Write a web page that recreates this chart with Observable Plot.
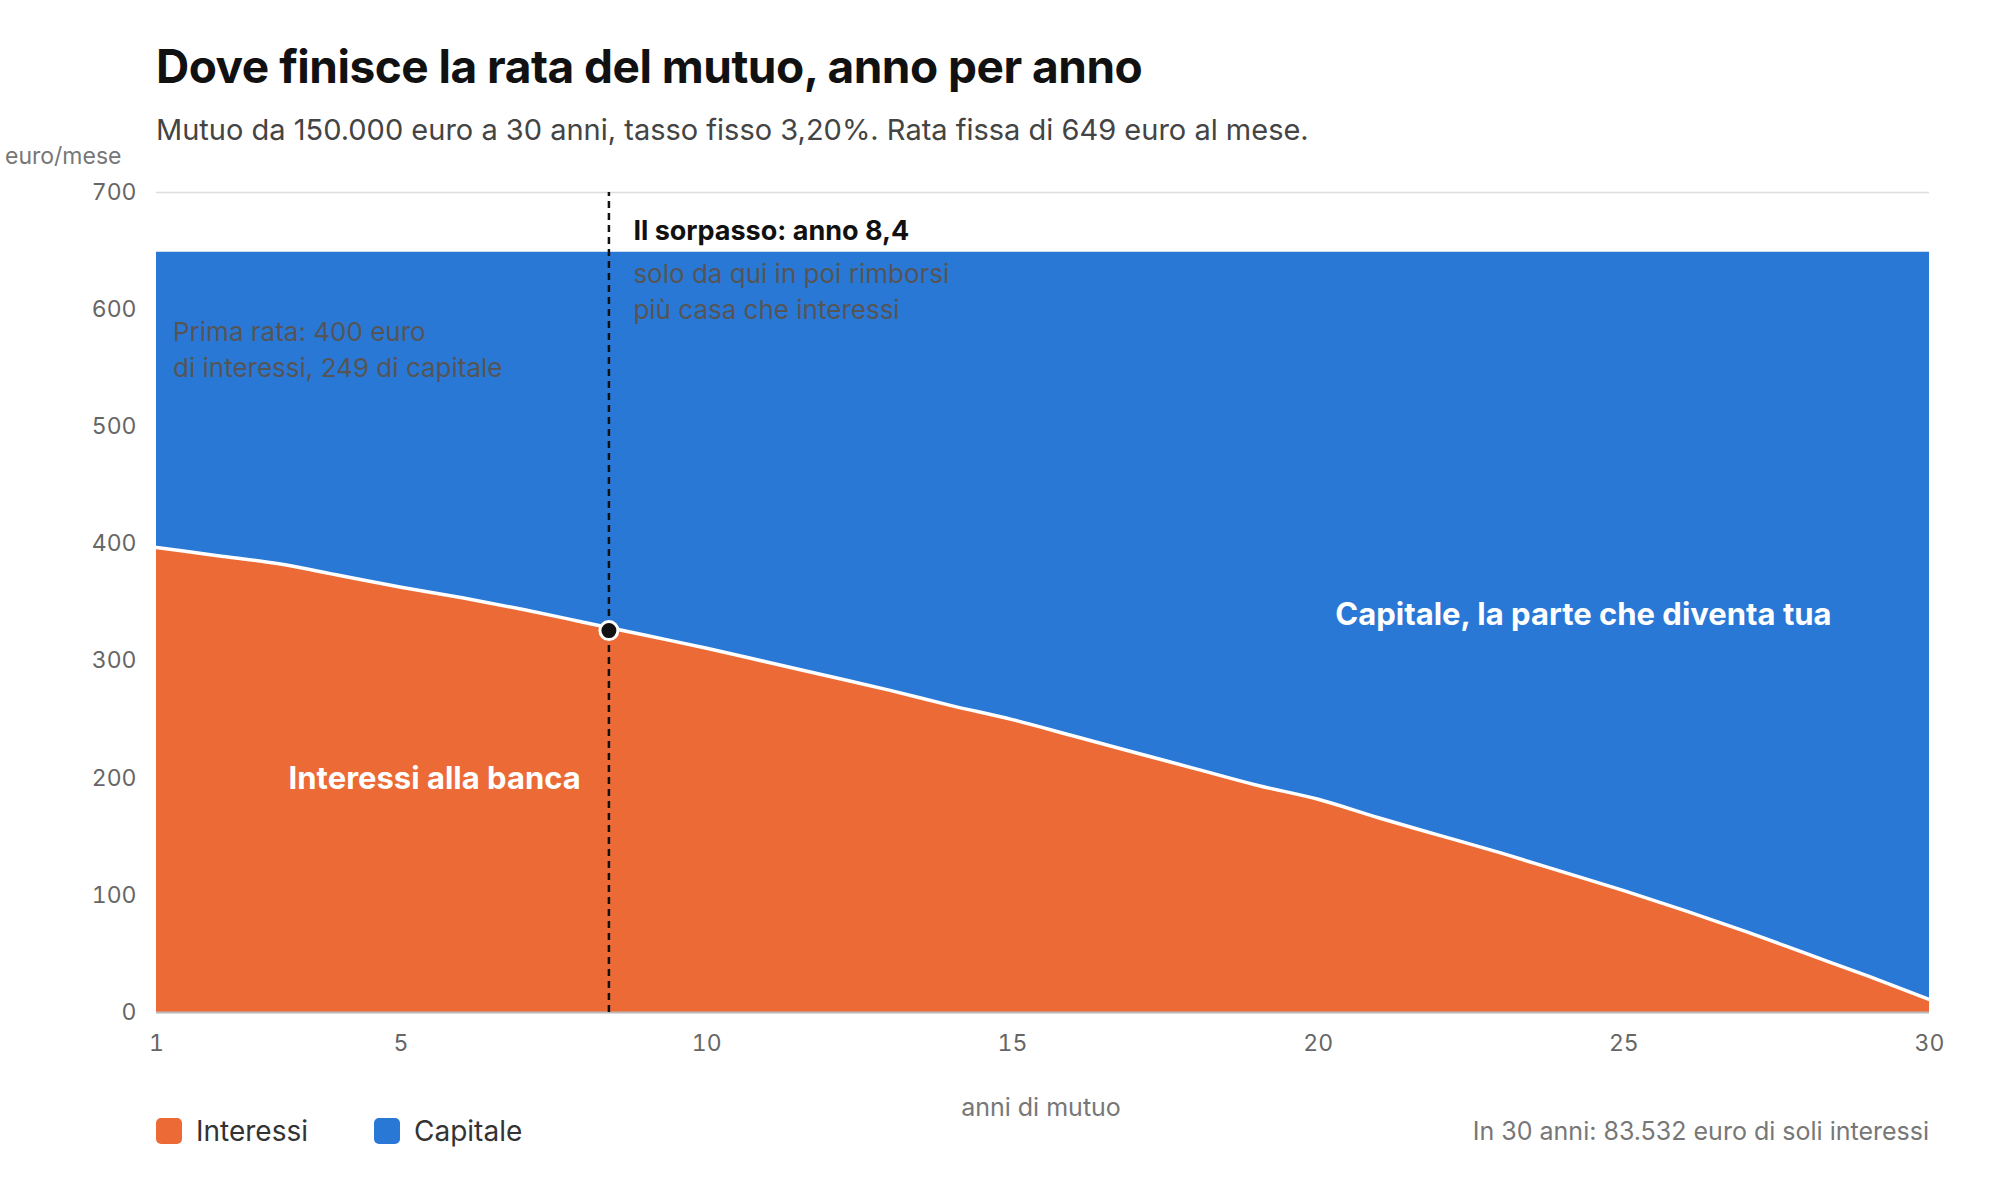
<!DOCTYPE html>
<html><head><meta charset="utf-8">
<script src="https://cdn.jsdelivr.net/npm/d3@7"></script>
<script src="https://cdn.jsdelivr.net/npm/@observablehq/plot@0.6"></script>
<style>
body{margin:0;background:#fff;font-family:Inter,"Noto Sans",sans-serif;}
#wrap{position:relative;width:2000px;height:1200px;}
.abs{position:absolute;white-space:nowrap;}
</style></head><body>
<div id="wrap">
<div class="abs" style="left:156px;top:38px;font-size:46px;font-weight:700;color:#111;letter-spacing:-0.5px">Dove finisce la rata del mutuo, anno per anno</div>
<div class="abs" style="left:156px;top:112px;font-size:29px;color:#444">Mutuo da 150.000 euro a 30 anni, tasso fisso 3,20%. Rata fissa di 649 euro al mese.</div>
<div class="abs" style="left:5px;top:142px;font-size:23px;color:#777">euro/mese</div>
<div id="chart" class="abs" style="left:0;top:140px"></div>
<div class="abs" style="left:0;width:2082px;text-align:center;top:1092px;font-size:25px;color:#777">anni di mutuo</div>
<div class="abs" style="left:156px;top:1114px;font-size:28px;color:#333;display:flex;align-items:center">
<span style="display:inline-block;width:26px;height:26px;border-radius:5px;background:#EC6A35;margin-right:14px"></span>Interessi
<span style="display:inline-block;width:26px;height:26px;border-radius:5px;background:#2A78D6;margin:0 14px 0 66px"></span>Capitale</div>
<div class="abs" style="right:71px;top:1116px;font-size:25px;color:#777">In 30 anni: 83.532 euro di soli interessi</div>
</div>
<script>
const years = d3.range(1, 31);
const interessi = [397,390,383,373,363,354,344,333,322,311,299,287,275,262,250,236,222,208,194,182,166,151,136,120,104,87,69,50,31,11];
const rata = 649;
const yTicks = [0,100,200,300,400,500,600,700];
const xTicks = [1,5,10,15,20,25,30];
const sorpasso = {x: 8.4, y: 326};
const data = years.map((a,i)=>({anno:a, interessi:interessi[i], rata}));
const chart = Plot.plot({
  width: 2000, height: 990,
  marginLeft: 156, marginRight: 71, marginTop: 52, marginBottom: 118,
  style: {fontFamily: "Inter, 'Noto Sans', sans-serif"},
  x: {domain:[1,30], ticks: xTicks, label: null, tickSize: 0, tickPadding: 22},
  y: {domain:[0,700], ticks: yTicks, label: null, tickSize: 0, tickPadding: 20, grid: false},
  marks: [
    Plot.gridY(yTicks, {stroke:"#ddd", strokeOpacity:1, strokeWidth:1.5}),
    Plot.areaY(data, {x:"anno", y1:0, y2:"interessi", fill:"#EC6A35", curve:"monotone-x"}),
    Plot.areaY(data, {x:"anno", y1:"interessi", y2:"rata", fill:"#2A78D6", curve:"monotone-x"}),
    Plot.lineY(data, {x:"anno", y:"interessi", stroke:"white", strokeWidth:3.5, curve:"monotone-x"}),
    Plot.ruleY([0], {stroke:"#bbb", strokeWidth:2}),
    Plot.ruleX([sorpasso.x], {y1:0, y2:700, stroke:"#111", strokeWidth:2.5, strokeDasharray:"7,5"}),
    Plot.dot([sorpasso], {x:"x", y:"y", r:9, fill:"#111", stroke:"white", strokeWidth:3}),
    Plot.axisX(xTicks, {tickSize:0, tickPadding:22, fontSize:23, fill:"#666", label:null}),
    Plot.axisY(yTicks, {tickSize:0, tickPadding:20, fontSize:23, fill:"#666", label:null}),
    Plot.text(["Prima rata: 400 euro\ndi interessi, 249 di capitale"], {x:1.27, y:568, text:d=>d, textAnchor:"start", lineAnchor:"middle", fontSize:26, fill:"#555", lineHeight:1.4, frameAnchor:null}),
    Plot.text(["Il sorpasso: anno 8,4"], {x:8.8, y:667, text:d=>d, textAnchor:"start", fontSize:27, fontWeight:700, fill:"#111"}),
    Plot.text(["solo da qui in poi rimborsi\npiù casa che interessi"], {x:8.8, y:617, text:d=>d, textAnchor:"start", fontSize:26, fill:"#555", lineHeight:1.35}),
    Plot.text(["Interessi alla banca"], {x:5.55, y:199, text:d=>d, fontSize:31, fontWeight:700, fill:"white"}),
    Plot.text(["Capitale, la parte che diventa tua"], {x:24.34, y:339, text:d=>d, fontSize:31, fontWeight:700, fill:"white"})
  ]
});
document.getElementById("chart").appendChild(chart);
</script>
</body></html>
